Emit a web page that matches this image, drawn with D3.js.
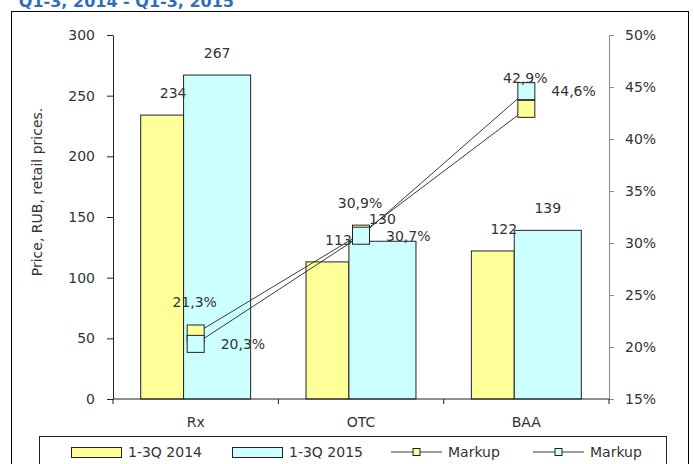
<!DOCTYPE html>
<html>
<head>
<meta charset="utf-8">
<script src="https://cdn.jsdelivr.net/npm/d3@7"></script>
<style>
  body { margin: 0; background: #fff; }
  svg { display: block; }
  text { font-family: "DejaVu Sans", Verdana, sans-serif; fill: #333; }
</style>
</head>
<body>
<svg id="chart" width="694" height="464"></svg>
<script>
// Data
const categories = ["Rx", "OTC", "BAA"];
const price2014 = [234, 113, 122];
const price2015 = [267, 130, 139];
const markup2014 = [0.213, 0.309, 0.429];
const markup2015 = [0.203, 0.307, 0.446];
const seriesNames = ["1-3Q 2014", "1-3Q 2015", "Markup", "Markup"];
const leftTicks = [0, 50, 100, 150, 200, 250, 300];
const rightTicks = [0.15, 0.20, 0.25, 0.30, 0.35, 0.40, 0.45, 0.50];

const yellow = "#FFFF99", cyan = "#CCFFFF";

const svg = d3.select("#chart");

// Plot area
const plot = { left: 113, right: 609, top: 35, bottom: 399 };

// Title, cut off at the top of the picture (as in the source)
svg.append("text")
    .attr("x", 234)
    .attr("y", 7)
    .attr("text-anchor", "end")
    .style("font-size", "16px")
    .style("font-weight", "bold")
    .style("fill", "#2F6FB5")
    .text("Q1-3, 2014 - Q1-3, 2015");

// Outer frame
svg.append("rect")
    .attr("x", 11.5).attr("y", 11.5)
    .attr("width", 677).attr("height", 470)
    .attr("fill", "none")
    .attr("stroke", "#000");

// Scales
const x = d3.scaleBand()
    .domain(categories)
    .range([plot.left, plot.right])
    .paddingInner(0.335)
    .paddingOuter(0.1675);

const xCat = d3.scaleBand().domain(categories).range([plot.left, plot.right]);

const yLeft = d3.scaleLinear().domain([0, 300]).range([plot.bottom, plot.top]);
const yRight = d3.scaleLinear().domain([0.15, 0.5]).range([plot.bottom, plot.top]);

// the 2014 bar is narrower than the 2015 one in the original
const split = 0.39;
const w14 = x.bandwidth() * split;
const w15 = x.bandwidth() - w14;

const pct = d3.formatLocale({ decimal: ",", thousands: " ", grouping: [3], currency: ["", ""] }).format(".1%");

// Bars
const bars = svg.append("g");
bars.selectAll(".b14")
    .data(price2014)
    .enter().append("rect")
    .attr("x", (d, i) => x(categories[i]))
    .attr("y", d => yLeft(d))
    .attr("width", w14)
    .attr("height", d => yLeft(0) - yLeft(d))
    .attr("fill", yellow)
    .attr("stroke", "#222")
    .attr("stroke-width", 1);

bars.selectAll(".b15")
    .data(price2015)
    .enter().append("rect")
    .attr("x", (d, i) => x(categories[i]) + w14)
    .attr("y", d => yLeft(d))
    .attr("width", w15)
    .attr("height", d => yLeft(0) - yLeft(d))
    .attr("fill", cyan)
    .attr("stroke", "#222")
    .attr("stroke-width", 1);

// Bar value labels
svg.append("g").selectAll("text")
    .data(price2014)
    .enter().append("text")
    .attr("x", (d, i) => x(categories[i]) + w14 / 2 + 11)
    .attr("y", d => yLeft(d) - 17)
    .attr("text-anchor", "middle")
    .style("font-size", "14px")
    .text(d => d);

svg.append("g").selectAll("text")
    .data(price2015)
    .enter().append("text")
    .attr("x", (d, i) => x(categories[i]) + w14 + w15 / 2)
    .attr("y", d => yLeft(d) - 17)
    .attr("text-anchor", "middle")
    .style("font-size", "14px")
    .text(d => d);

// Axes
const leftAxis = svg.append("g")
    .attr("transform", `translate(${plot.left},0)`)
    .call(d3.axisLeft(yLeft).tickValues(leftTicks).tickSize(6).tickPadding(12).tickSizeOuter(0));
leftAxis.selectAll("text").style("font-size", "14px").style("fill", "#333");
leftAxis.selectAll("line, path").attr("stroke", "#222");

const rightAxis = svg.append("g")
    .attr("transform", `translate(${plot.right},0)`)
    .call(d3.axisRight(yRight).tickValues(rightTicks).tickFormat(d3.format(".0%")).tickSize(5).tickPadding(11).tickSizeOuter(0));
rightAxis.selectAll("text").style("font-size", "14px").style("fill", "#333");
rightAxis.selectAll("line, path").attr("stroke", "#8a8a8a");

// Bottom axis: ticks on the category boundaries
const bottom = svg.append("g").attr("transform", `translate(0,${plot.bottom})`);
bottom.append("line")
    .attr("x1", plot.left).attr("x2", plot.right)
    .attr("stroke", "#222");
bottom.selectAll(".tick")
    .data(categories.concat([null]))
    .enter().append("line")
    .attr("x1", (d, i) => i < categories.length ? xCat(d) : plot.right)
    .attr("x2", (d, i) => i < categories.length ? xCat(d) : plot.right)
    .attr("y1", 0).attr("y2", 5)
    .attr("stroke", "#222");
bottom.selectAll("text")
    .data(categories)
    .enter().append("text")
    .attr("x", d => xCat(d) + xCat.bandwidth() / 2)
    .attr("y", 28)
    .attr("text-anchor", "middle")
    .style("font-size", "14px")
    .text(d => d);

// Y axis title
svg.append("text")
    .attr("transform", "translate(42,192) rotate(-90)")
    .attr("text-anchor", "middle")
    .style("font-size", "14px")
    .text("Price, RUB, retail prices.");

// Markup lines and markers
const cx = i => xCat(categories[i]) + xCat.bandwidth() / 2;
const line = d3.line().x((d, i) => cx(i)).y(d => yRight(d));
const mSize = 17;

[[markup2014, yellow], [markup2015, cyan]].forEach(([vals, col]) => {
    svg.append("path")
        .datum(vals)
        .attr("d", line)
        .attr("fill", "none")
        .attr("stroke", "#3a3a3a")
        .attr("stroke-width", 1);
    svg.append("g").selectAll("rect")
        .data(vals)
        .enter().append("rect")
        .attr("x", (d, i) => cx(i) - mSize / 2)
        .attr("y", d => yRight(d) - mSize / 2)
        .attr("width", mSize)
        .attr("height", mSize)
        .attr("fill", col)
        .attr("stroke", "#222");
});

// Markup labels: 2014 above, 2015 to the right
svg.append("g").selectAll("text")
    .data(markup2014)
    .enter().append("text")
    .attr("x", (d, i) => cx(i) - 1)
    .attr("y", d => yRight(d) - 26)
    .attr("text-anchor", "middle")
    .style("font-size", "14px")
    .text(d => pct(d));

svg.append("g").selectAll("text")
    .data(markup2015)
    .enter().append("text")
    .attr("x", (d, i) => cx(i) + 25)
    .attr("y", d => yRight(d) + 5)
    .style("font-size", "14px")
    .text(d => pct(d));

// Legend
const legend = svg.append("g");
legend.append("rect")
    .attr("x", 39.5).attr("y", 436.5)
    .attr("width", 627).attr("height", 40)
    .attr("fill", "#fff")
    .attr("stroke", "#222");

const legendX = [71, 232, 391, 533];
const legendY = 452;
seriesNames.forEach((name, i) => {
    const g = legend.append("g").attr("transform", `translate(${legendX[i]},${legendY})`);
    if (i < 2) {
        g.append("rect")
            .attr("x", 0.5).attr("y", -4.5)
            .attr("width", 50).attr("height", 10)
            .attr("fill", i === 0 ? yellow : cyan)
            .attr("stroke", "#222");
        g.append("text").attr("x", 57).attr("y", 5).style("font-size", "14px").text(name);
    } else {
        g.append("line")
            .attr("x1", 0).attr("x2", 51)
            .attr("stroke", "#3a3a3a");
        g.append("rect")
            .attr("x", 22).attr("y", -3.5)
            .attr("width", 7).attr("height", 7)
            .attr("fill", i === 2 ? yellow : cyan)
            .attr("stroke", "#222");
        g.append("text").attr("x", 57).attr("y", 5).style("font-size", "14px").text(name);
    }
});
</script>
</body>
</html>
